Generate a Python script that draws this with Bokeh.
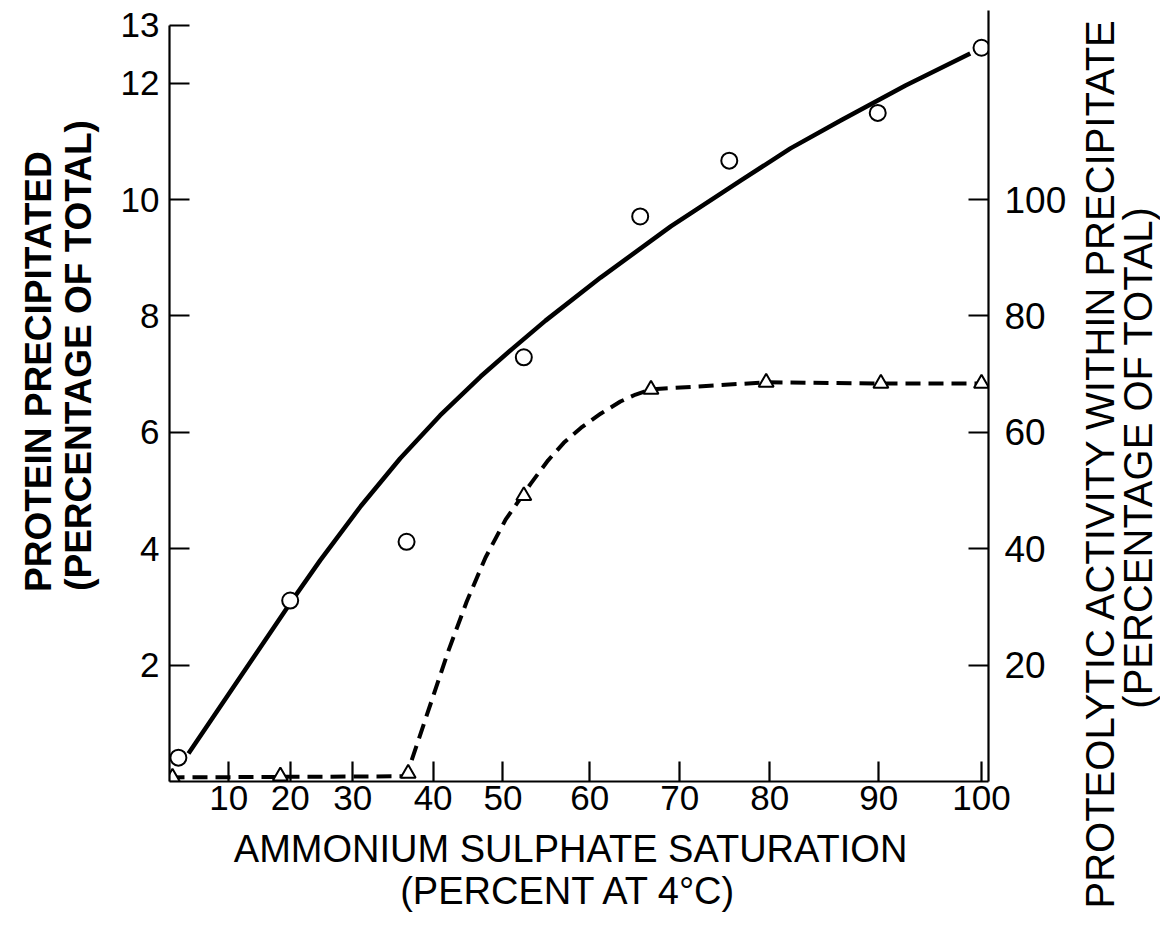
import numpy as np
from bokeh.plotting import figure
from bokeh.models import Range1d, LinearAxis, FixedTicker, Label
from bokeh.layouts import row, column
from bokeh.embed import file_html
from bokeh.resources import INLINE

# ---- x-axis scale: the axis is linear in grams of salt per litre; labelled in % saturation
sat_scale_pct = [0, 10, 20, 30, 40, 50, 60, 70, 80, 90, 100]
salt_g_per_l = [0, 56, 114, 173, 249, 315, 397, 482, 567, 670, 767]
x_tick_pct = [10, 20, 30, 40, 50, 60, 70, 80, 90, 100]

left_ticks = [2, 4, 6, 8, 10, 12, 13]
right_ticks = [20, 40, 60, 80, 100]

# ---- protein precipitated (% of total), open circles
protein_sat = [1.5, 20.0, 36.7, 52.4, 65.6, 75.5, 89.9, 100.0]
protein_pct = [0.41, 3.11, 4.12, 7.29, 9.71, 10.67, 11.49, 12.61]
# hand-drawn smooth curve through the protein data
protein_curve_sat = [3.2, 20.3, 24.8, 31.0, 35.9, 41.0, 46.8, 51.1, 54.9, 61.2,
                     69.0, 76.8, 81.9, 86.5, 92.6, 98.9]
protein_curve_pct = [0.48, 3.11, 3.80, 4.73, 5.55, 6.29, 6.96, 7.44, 7.92, 8.66,
                     9.54, 10.33, 10.88, 11.36, 11.96, 12.51]

# ---- proteolytic activity within precipitate (% of total), open triangles
activity_sat = [0.5, 18.4, 36.9, 52.4, 66.8, 79.6, 90.2, 100.0]
activity_pct = [0.7, 0.9, 1.4, 49.1, 67.4, 68.6, 68.4, 68.4]
# hand-drawn dashed curve
activity_curve_sat = [0.0, 36.5, 37.2, 42.2, 44.8, 47.5, 50.3, 53.2, 55.2, 57.0, 59.0,
                      61.2, 63.4, 65.1, 66.8, 79.6, 90.2, 100.0]
activity_curve_pct = [0.7, 0.9, 3.1, 22.5, 30.9, 38.5, 45.0, 51.2, 55.2, 58.2, 60.8,
                      63.2, 65.3, 66.5, 67.4, 68.6, 68.4, 68.4]

x_title = ["AMMONIUM SULPHATE SATURATION", "(PERCENT AT 4°C)"]
left_title = ["PROTEIN  PRECIPITATED", "(PERCENTAGE OF TOTAL)"]
right_title = ["PROTEOLYTIC ACTIVITY WITHIN PRECIPITATE", "(PERCENTAGE OF TOTAL)"]


def to_salt(s):
    return np.interp(s, sat_scale_pct, salt_g_per_l)


FONT = "Liberation Sans"


def text_panel(w, h):
    f = figure(width=w, height=h, x_range=Range1d(0, w), y_range=Range1d(0, h),
               output_backend="svg", toolbar_location=None,
               x_axis_location=None, y_axis_location=None,
               min_border=0)
    f.grid.visible = False
    f.outline_line_color = None
    f.background_fill_color = "white"
    f.border_fill_color = "white"
    return f


def lab(f, text, x, y, size, bold=False, angle=0.0, align="center", font=FONT):
    f.add_layout(Label(x=x, y=y, text=text, angle=angle, text_align=align,
                       text_baseline="middle", text_font=font, text_font_size=size,
                       text_font_style="bold" if bold else "normal",
                       text_color="black"))


MAIN_W, MAIN_H = 976, 825

# ---------------- main plot ----------------
p = figure(width=MAIN_W, height=MAIN_H,
           x_range=Range1d(0, 773.6), y_range=Range1d(0, 13.25),
           output_backend="svg", toolbar_location=None,
           min_border_left=69, min_border_right=88,
           min_border_top=10, min_border_bottom=44)
p.extra_y_ranges = {"act": Range1d(0, 132.5)}
p.grid.visible = False
p.outline_line_color = None
p.background_fill_color = "white"
p.border_fill_color = "white"

xax = p.xaxis[0]
tick_vals = [int(v) for v in to_salt(x_tick_pct)]
xax.ticker = FixedTicker(ticks=tick_vals)
xax.major_label_overrides = {tv: str(pc) for tv, pc in zip(tick_vals, x_tick_pct)}

yax = p.yaxis[0]
yax.ticker = FixedTicker(ticks=left_ticks)
yax.bounds = (0, 13)

rax = LinearAxis(y_range_name="act", ticker=FixedTicker(ticks=right_ticks))
p.add_layout(rax, "right")

for ax in (xax, yax, rax):
    ax.axis_line_width = 2.2
    ax.axis_line_color = "black"
    ax.major_tick_line_width = 2.2
    ax.major_tick_line_color = "black"
    ax.major_tick_in = 20
    ax.major_tick_out = 0
    ax.minor_tick_line_color = None
    ax.major_label_text_font = FONT
    ax.major_label_text_font_size = "35px"
    ax.major_label_text_color = "black"
xax.major_label_standoff = 4
yax.major_label_standoff = 10
rax.major_label_standoff = 16
rax.major_label_text_font_size = "37px"

p.line(to_salt(protein_curve_sat), protein_curve_pct, line_color="black", line_width=4.5,
       line_join="round")
p.line(to_salt(activity_curve_sat), activity_curve_pct, line_color="black", line_width=4,
       line_dash="15 8", y_range_name="act")

p.scatter(to_salt(protein_sat), protein_pct, marker="circle", size=16,
          line_color="black", line_width=2, fill_color="white")
p.scatter(to_salt(activity_sat), activity_pct, marker="triangle", size=15,
          line_color="black", line_width=2, fill_color="white", y_range_name="act")

# ---------------- title panels ----------------
left_fig = text_panel(100, 925)
lab(left_fig, left_title[0], 38, 559, "37px", bold=True, angle=np.pi / 2)
lab(left_fig, left_title[1], 78, 570, "37px", bold=True, angle=np.pi / 2)

right_fig = text_panel(84, 925)
lab(right_fig, right_title[0], 23, 17, "40px", angle=np.pi / 2, align="left")
lab(right_fig, right_title[1], 61, 468, "40px", angle=np.pi / 2)

bottom_fig = text_panel(MAIN_W, 925 - MAIN_H)
lab(bottom_fig, x_title[0], 478, 77, "38px")
lab(bottom_fig, x_title[1], 476, 35, "38px")

layout = row(left_fig, column(p, bottom_fig), right_fig)

open("out.html", "w").write(file_html(layout, INLINE))
